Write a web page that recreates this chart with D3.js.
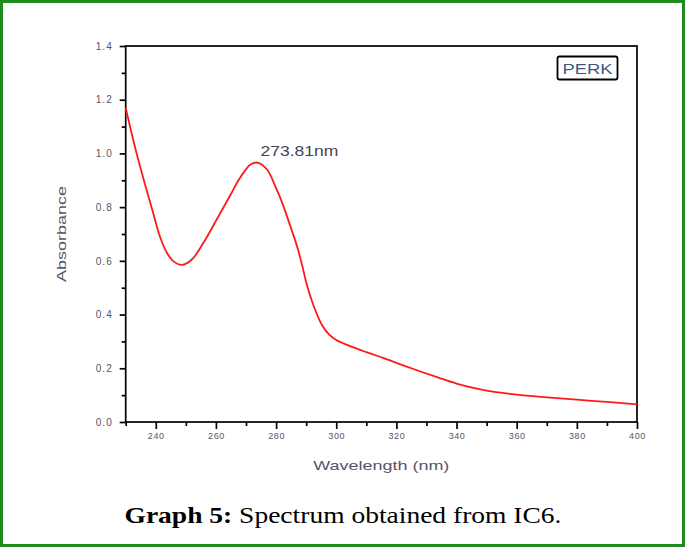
<!DOCTYPE html>
<html>
<head>
<meta charset="utf-8">
<style>
body { margin: 0; background: #fff; }
svg { font-family: "Liberation Sans", Arial, sans-serif; }
.tick-label { fill: #555566; }
.frame { fill: none; stroke: #000; stroke-width: 1.7; }
</style>
</head>
<body>
<script src="https://cdn.jsdelivr.net/npm/d3@7"></script>
<script>

// values
var wavelength = [230, 232.5, 234.8, 237, 239.2, 241.4, 243.7, 245.9, 248.7, 252, 255.9, 260.3,
  264.8, 267.5, 269.8, 271.4, 273.8, 277, 279.8, 282.5, 284.8, 287, 288.7, 290.3, 292.5, 295.3,
  297.5, 300, 304, 310, 316, 322, 328, 334, 340, 346, 352, 360, 370, 380, 390, 400];
var absorbance = [1.17, 1.05, 0.95, 0.862, 0.775, 0.69, 0.63, 0.598, 0.585, 0.605, 0.668, 0.755,
  0.845, 0.9, 0.938, 0.958, 0.966, 0.94, 0.876, 0.802, 0.727, 0.653, 0.582, 0.508, 0.432, 0.36,
  0.327, 0.305, 0.285, 0.26, 0.237, 0.212, 0.188, 0.165, 0.143, 0.126, 0.113, 0.102, 0.092, 0.083, 0.075, 0.066];
var xTicks = [240, 260, 280, 300, 320, 340, 360, 380, 400];
var xMinor = [230, 250, 270, 290, 310, 330, 350, 370, 390];
var yTicks = [0.0, 0.2, 0.4, 0.6, 0.8, 1.0, 1.2, 1.4];
var yMinor = [0.1, 0.3, 0.5, 0.7, 0.9, 1.1, 1.3];
var peakLabel = "273.81nm";
var seriesName = "PERK";

var W = 686, H = 548;
var plotL = 125.7, plotR = 637, plotT = 46, plotB = 422;

var svg = d3.select("body").append("svg")
    .attr("width", W)
    .attr("height", H);

// green outer border
svg.append("rect")
    .attr("x", 1.5).attr("y", 1.5)
    .attr("width", W - 4).attr("height", H - 4)
    .attr("fill", "#fff")
    .attr("stroke", "#1f8a1f")
    .attr("stroke-width", 3);

var x = d3.scaleLinear().domain([230, 400]).range([plotL, plotR]);
var y = d3.scaleLinear().domain([0, 1.4]).range([plotB, plotT]);

var xAxis = d3.axisBottom(x).tickValues(xTicks).tickSize(7).tickPadding(4)
    .tickFormat(d3.format("d"));
var xAxisMinor = d3.axisBottom(x).tickValues(xMinor).tickSize(4).tickFormat("");
var yAxis = d3.axisLeft(y).tickValues(yTicks).tickSize(6).tickPadding(7)
    .tickFormat(d3.format(".1f"));
var yAxisMinor = d3.axisLeft(y).tickValues(yMinor).tickSize(4).tickFormat("");

function styleAxis(g) {
  g.select(".domain").remove();
  g.selectAll("line").attr("stroke", "#000").attr("stroke-width", 1.7);
  g.selectAll("text").attr("class", "tick-label").attr("fill", null);
}

svg.append("g")
    .attr("transform", "translate(0," + plotB + ")")
    .call(xAxis)
    .call(styleAxis)
    .selectAll("text")
    .style("font-size", "9px")
    .style("letter-spacing", "0.6px");

svg.append("g")
    .attr("transform", "translate(0," + plotB + ")")
    .call(xAxisMinor)
    .call(styleAxis);

svg.append("g")
    .attr("transform", "translate(" + plotL + ",0)")
    .call(yAxis)
    .call(styleAxis)
    .selectAll("text")
    .style("font-size", "10px")
    .style("letter-spacing", "1px");

svg.append("g")
    .attr("transform", "translate(" + plotL + ",0)")
    .call(yAxisMinor)
    .call(styleAxis);

svg.append("rect")
    .attr("class", "frame")
    .attr("x", plotL).attr("y", plotT)
    .attr("width", plotR - plotL).attr("height", plotB - plotT);

var pts = wavelength.map(function(w, i) { return [w, absorbance[i]]; });

var line = d3.line()
    .x(function(d) { return x(d[0]); })
    .y(function(d) { return y(d[1]); })
    .curve(d3.curveCatmullRom.alpha(0.5));

svg.append("path")
    .datum(pts)
    .attr("fill", "none")
    .attr("stroke", "#ff1a1a")
    .attr("stroke-width", 1.8)
    .attr("d", line);

// peak annotation
svg.append("text")
    .attr("x", x(273.81) + 3)
    .attr("y", y(0.966) - 7)
    .attr("font-size", "14px")
    .attr("textLength", 78)
    .attr("lengthAdjust", "spacingAndGlyphs")
    .attr("fill", "#444455")
    .text(peakLabel);

// legend box
svg.append("rect")
    .attr("x", 557.5).attr("y", 56.5)
    .attr("width", 60).attr("height", 23)
    .attr("rx", 2)
    .attr("fill", "#fff")
    .attr("stroke", "#000")
    .attr("stroke-width", 1.8);

svg.append("text")
    .attr("x", 587.5).attr("y", 73.5)
    .attr("text-anchor", "middle")
    .attr("font-size", "15px")
    .attr("textLength", 50)
    .attr("lengthAdjust", "spacingAndGlyphs")
    .attr("fill", "#3d5a80")
    .text(seriesName);

// axis titles
svg.append("text")
    .attr("x", (plotL + plotR) / 2)
    .attr("y", 470)
    .attr("text-anchor", "middle")
    .attr("font-size", "13px")
    .attr("textLength", 136)
    .attr("lengthAdjust", "spacingAndGlyphs")
    .attr("fill", "#555566")
    .text("Wavelength (nm)");

svg.append("text")
    .attr("transform", "translate(66,234) rotate(-90)")
    .attr("text-anchor", "middle")
    .attr("font-size", "13px")
    .attr("textLength", 96)
    .attr("lengthAdjust", "spacingAndGlyphs")
    .attr("fill", "#555566")
    .text("Absorbance");

// caption
var cap = svg.append("text")
    .attr("x", W / 2)
    .attr("y", 523)
    .attr("text-anchor", "middle")
    .attr("font-family", "'Liberation Serif', 'DejaVu Serif', serif")
    .attr("font-size", "23px")
    .attr("fill", "#000");
cap.append("tspan").attr("font-weight", "bold").text("Graph 5:");
cap.append("tspan").text(" Spectrum obtained from IC6.");
cap.attr("textLength", 437).attr("lengthAdjust", "spacingAndGlyphs");

</script>
</body>
</html>
